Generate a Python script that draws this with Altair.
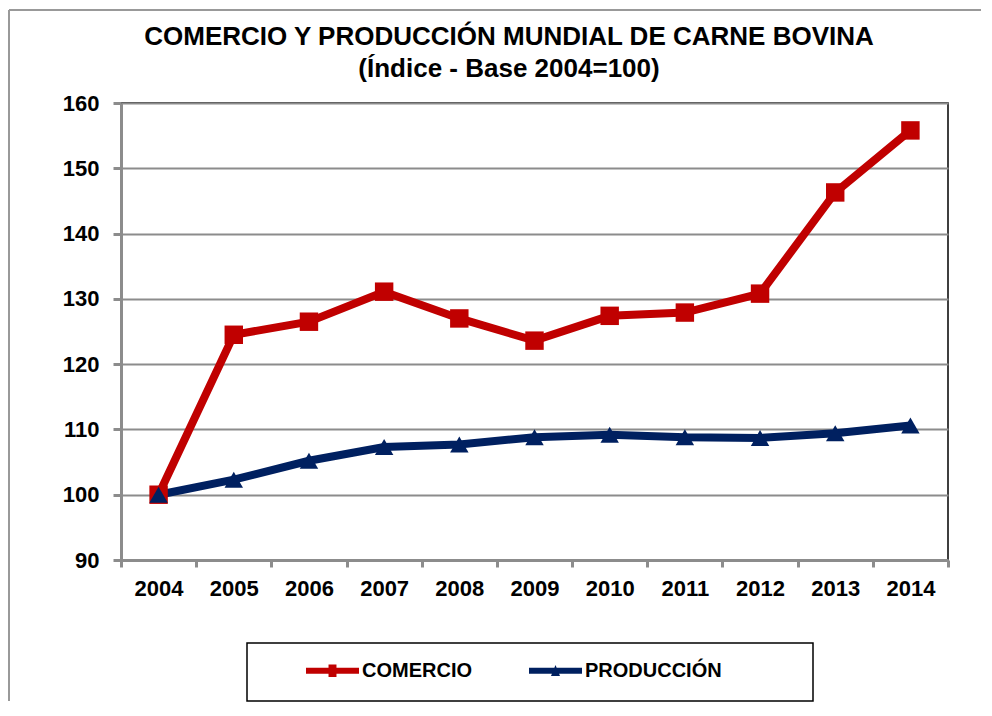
import altair as alt
import pandas as pd

years = [str(y) for y in range(2004, 2015)]
comercio = [100, 124.5, 126.5, 131.1, 127.0, 123.6, 127.4, 127.9, 130.8, 146.3, 155.8]
produccion = [100, 102.3, 105.2, 107.3, 107.7, 108.8, 109.2, 108.8, 108.7, 109.4, 110.6]
series_names = ["COMERCIO", "PRODUCCIÓN"]
series_colors = ["#c00000", "#002060"]
y_ticks = [90, 100, 110, 120, 130, 140, 150, 160]
title_line1 = ["COMERCIO Y PRODUCCIÓN MUNDIAL DE CARNE BOVINA"]
title_line2 = ["(Índice - Base 2004=100)"]

df = pd.DataFrame({
    "year": years * 2,
    "value": comercio + produccion,
    "series": [series_names[0]] * len(years) + [series_names[1]] * len(years),
})

FONT = "Liberation Sans"
GRAY = "#8c8c8c"

x_enc = alt.X(
    "year:O",
    scale=alt.Scale(type="band", paddingInner=0, paddingOuter=0),
    bandPosition=0.5,
    axis=alt.Axis(
        title=None, labelAngle=0, tickBand="extent", grid=False,
        domainColor=GRAY, domainWidth=3, tickColor=GRAY, tickWidth=3, tickSize=7,
        labelFont=FONT, labelFontSize=22, labelFontWeight="bold", labelColor="black",
        labelPadding=11,
    ),
)
y_enc = alt.Y(
    "value:Q",
    scale=alt.Scale(domain=[90, 160], nice=False, zero=False),
    axis=alt.Axis(
        title=None, values=y_ticks, grid=True, gridColor=GRAY, gridWidth=2,
        domainColor=GRAY, domainWidth=3, tickColor=GRAY, tickWidth=3, tickSize=8,
        labelFont=FONT, labelFontSize=22, labelFontWeight="bold", labelColor="black",
        labelPadding=14,
    ),
)

color_plain = alt.Color("series:N", scale=alt.Scale(domain=series_names, range=series_colors), legend=None)

lines = alt.Chart(df).mark_line(strokeWidth=8).encode(
    x=x_enc, y=y_enc, color=color_plain,
    order=alt.Order("year:O"),
)

points = alt.Chart(df).mark_point(filled=True, size=340, opacity=1).encode(
    x=x_enc, y=y_enc, color=color_plain,
    shape=alt.Shape("series:N", scale=alt.Scale(domain=series_names, range=["square", "triangle-up"]), legend=None),
)

legend_paths = [
    "M-1,-0.11L1,-0.11L1,0.11L-1,0.11Z M-0.15,-0.24L0.15,-0.24L0.15,0.24L-0.15,0.24Z",
    "M-1,-0.11L1,-0.11L1,0.11L-1,0.11Z M-0.17,0.2L0,-0.22L0.17,0.2Z",
]

legend_props = dict(
    title=None, orient="none", legendX=185, legendY=541, direction="horizontal",
    symbolSize=2809, symbolStrokeWidth=0, labelFont=FONT, labelFontSize=20,
    labelFontWeight="bold", labelColor="black", labelOffset=3, columnPadding=57,
    padding=0, symbolOpacity=1,
)

legend_layer = alt.Chart(df).transform_filter("false").mark_point(filled=True, opacity=1).encode(
    color=alt.Color(
        "series:N", scale=alt.Scale(domain=series_names, range=series_colors),
        legend=alt.Legend(**legend_props),
    ),
    shape=alt.Shape(
        "series:N", scale=alt.Scale(domain=series_names, range=legend_paths),
        legend=alt.Legend(**legend_props),
    ),
)

one = pd.DataFrame({"k": [0]})
legend_box = alt.Chart(one).mark_rect(fill="white", fillOpacity=0, stroke="black", strokeWidth=1.5).encode(
    x=alt.value(126), x2=alt.value(692), y=alt.value(540), y2=alt.value(598)
)
frame_left = alt.Chart(one).mark_rule(color="#999999", strokeWidth=2).encode(
    x=alt.value(-112), y=alt.value(-93), y2=alt.value(598)
)
frame_top = alt.Chart(one).mark_rule(color="#999999", strokeWidth=2).encode(
    x=alt.value(-112), x2=alt.value(860), y=alt.value(-93)
)

t1 = alt.Chart(pd.DataFrame({"t": title_line1})).mark_text(
    font=FONT, fontSize=26, fontWeight="bold", color="black", align="center", baseline="alphabetic"
).encode(text="t:N", x=alt.value(388), y=alt.value(-58))
t2 = alt.Chart(pd.DataFrame({"t": title_line2})).mark_text(
    font=FONT, fontSize=26, fontWeight="bold", color="black", align="center", baseline="alphabetic"
).encode(text="t:N", x=alt.value(388), y=alt.value(-26))

chart = alt.layer(
    frame_left, frame_top, legend_box, t1, t2, lines, points, legend_layer
).resolve_scale(
    color="independent", shape="independent"
).properties(
    width=827, height=457,
    padding={"left": 0, "top": 1, "right": 0, "bottom": 0},
).configure_view(
    fill="#d9d9d9", stroke="black", strokeWidth=1.5
)

chart.save("out.html", embed_options={"renderer": "svg", "actions": False})
